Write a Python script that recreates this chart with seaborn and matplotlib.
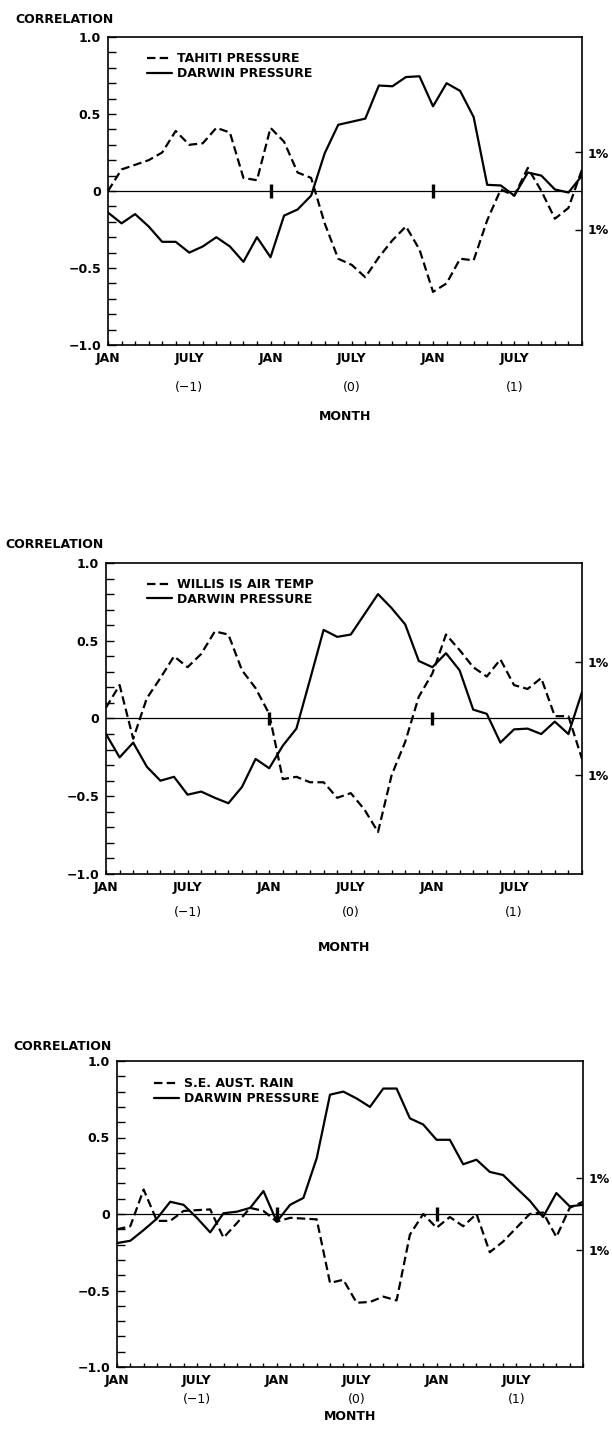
import numpy as np
import pandas as pd
import seaborn as sns
import matplotlib.pyplot as plt
from matplotlib.ticker import MultipleLocator, FixedLocator

# Lag correlations with Darwin pressure, Jan of year (-1) to Dec of year (+1)
months = np.arange(36)
tick_months = [0, 6, 12, 18, 24, 30]
tick_labels = ['JAN', 'JULY', 'JAN', 'JULY', 'JAN', 'JULY']
year_months = [6, 18, 30]
year_labels = ['(\u22121)', '(0)', '(1)']
jan_marks = [12, 24]

tahiti = [0.0, 0.14, 0.17, 0.20, 0.25, 0.39, 0.30, 0.31, 0.41, 0.38, 0.085, 0.07,
          0.41, 0.32, 0.12, 0.085, -0.21, -0.44, -0.48, -0.56, -0.43, -0.32, -0.23, -0.38,
          -0.655, -0.60, -0.44, -0.45, -0.19, 0.01, -0.03, 0.15, 0.0, -0.18, -0.11, 0.14]
darwin_1 = [-0.14, -0.21, -0.15, -0.23, -0.33, -0.33, -0.40, -0.36, -0.30, -0.36, -0.46, -0.30,
            -0.43, -0.16, -0.12, -0.03, 0.245, 0.43, 0.45, 0.47, 0.685, 0.68, 0.74, 0.745,
            0.55, 0.70, 0.65, 0.48, 0.04, 0.036, -0.03, 0.12, 0.10, 0.01, -0.01, 0.10]

willis = [0.07, 0.215, -0.13, 0.13, 0.26, 0.40, 0.33, 0.415, 0.56, 0.54, 0.31, 0.195,
          0.03, -0.39, -0.375, -0.41, -0.41, -0.51, -0.48, -0.585, -0.73, -0.365, -0.15, 0.14,
          0.29, 0.54, 0.44, 0.33, 0.27, 0.38, 0.215, 0.19, 0.26, 0.015, 0.015, -0.26]
darwin_2 = [-0.10, -0.25, -0.155, -0.31, -0.40, -0.375, -0.49, -0.47, -0.51, -0.545, -0.44, -0.26,
            -0.32, -0.175, -0.065, 0.25, 0.57, 0.525, 0.54, 0.67, 0.80, 0.71, 0.605, 0.37,
            0.33, 0.42, 0.31, 0.057, 0.03, -0.155, -0.07, -0.065, -0.10, -0.02, -0.10, 0.17]

se_rain = [-0.10, -0.08, 0.16, -0.045, -0.045, 0.02, 0.025, 0.03, -0.155, -0.06, 0.04, 0.02,
           -0.05, -0.025, -0.03, -0.035, -0.45, -0.43, -0.58, -0.575, -0.54, -0.565, -0.135, 0.0,
           -0.09, -0.02, -0.08, 0.0, -0.25, -0.18, -0.09, 0.0, 0.01, -0.15, 0.04, 0.08]
darwin_3 = [-0.19, -0.175, -0.105, -0.03, 0.08, 0.06, -0.025, -0.12, 0.005, 0.015, 0.04, 0.15,
            -0.05, 0.06, 0.105, 0.365, 0.78, 0.80, 0.755, 0.70, 0.82, 0.82, 0.625, 0.585,
            0.485, 0.485, 0.325, 0.355, 0.275, 0.255, 0.17, 0.087, -0.02, 0.137, 0.05, 0.06]

other_names = ['TAHITI PRESSURE', 'WILLIS IS AIR TEMP', 'S.E. AUST. RAIN']
other_series = [tahiti, willis, se_rain]
darwin_series = [darwin_1, darwin_2, darwin_3]
crit_1pct = [0.25, 0.365, 0.235]

# page layout, in pixels of the 612x1440 sheet
W, H = 612, 1440
axes_px = [(108, 582, 37, 345), (106, 582, 563, 874), (117, 583, 1061, 1367)]
corr_px = [(15, 19.5), (5, 545), (13, 1046)]
bottom_offsets = [(42, 72), (39, 74), (32, 49)]
legend_px = [(147, 52), (147, 578), (154, 1077)]

sns.set_style('white')
plt.rcParams['font.family'] = ['DejaVu Sans']
plt.rcParams['font.weight'] = 'bold'
plt.rcParams['font.size'] = 9
for key in ['text.color', 'axes.labelcolor', 'xtick.color', 'ytick.color', 'axes.edgecolor']:
    plt.rcParams[key] = 'black'

fig = plt.figure(figsize=(6.12, 14.4), dpi=100)

for k in range(3):
    left, right, top, bottom = axes_px[k]
    ax_w, ax_h = right - left, bottom - top
    ax = fig.add_axes([left / W, 1 - bottom / H, ax_w / W, ax_h / H])

    name = other_names[k]
    df = pd.DataFrame({
        'month': np.tile(months, 2),
        'corr': np.concatenate([other_series[k], darwin_series[k]]),
        'series': [name] * len(months) + ['DARWIN PRESSURE'] * len(months),
    })
    sns.lineplot(data=df, x='month', y='corr', style='series',
                 style_order=[name, 'DARWIN PRESSURE'],
                 dashes={name: (3.8, 1.9), 'DARWIN PRESSURE': ''},
                 color='black', lw=1.6, estimator=None, legend=False, ax=ax)
    lines = sorted(ax.get_lines(), key=lambda ln: ln.get_linestyle() == '-')

    ax.axhline(0, color='black', lw=0.9)
    ax.vlines(jan_marks, -0.045, 0.045, color='black', lw=2.4)

    ax.set_xlim(0, 35)
    ax.set_ylim(-1, 1)
    ax.set_xlabel('')
    ax.set_ylabel('')

    ax.xaxis.set_major_locator(FixedLocator(tick_months))
    ax.set_xticklabels(tick_labels)
    ax.xaxis.set_minor_locator(MultipleLocator(1))
    ax.set_yticks([1.0, 0.5, 0, -0.5, -1.0])
    ax.set_yticklabels(['1.0', '0.5', '0', '\u22120.5', '\u22121.0'])
    ax.yaxis.set_minor_locator(MultipleLocator(0.1))
    ax.tick_params(axis='x', which='both', direction='in', length=3, width=1,
                   pad=5, bottom=True, top=False, colors='black')
    ax.tick_params(axis='y', which='both', direction='in', length=5.5, width=1,
                   pad=5, left=True, right=False, colors='black')
    for s in ax.spines.values():
        s.set_linewidth(1.2)
        s.set_color('black')

    # 1% significance marks on the right
    ax2 = ax.twinx()
    ax2.set_ylim(-1, 1)
    ax2.set_yticks([crit_1pct[k], -crit_1pct[k]])
    ax2.set_yticklabels(['1%', '1%'])
    ax2.tick_params(axis='y', direction='in', length=5, width=1, pad=4, colors='black')
    for s in ax2.spines.values():
        s.set_visible(False)

    # year labels and MONTH title below the axis
    year_off, month_off = bottom_offsets[k]
    for m, lab in zip(year_months, year_labels):
        ax.text(m, -year_off / ax_h, lab, transform=ax.get_xaxis_transform(),
                ha='center', va='center', fontweight='normal', fontsize=9)
    ax.text(0.5, -month_off / ax_h, 'MONTH', transform=ax.transAxes,
            ha='center', va='center')

    lx, ly = legend_px[k]
    leg = ax.legend(lines, [name, 'DARWIN PRESSURE'], loc='upper left',
                    bbox_to_anchor=((lx - left) / ax_w, 1 - (ly - top) / ax_h),
                    frameon=False, borderpad=0, borderaxespad=0, handlelength=2.0,
                    handletextpad=0.4, labelspacing=0.15, fontsize=9)
    for t in leg.get_texts():
        t.set_color('black')

    cx, cy = corr_px[k]
    fig.text(cx / W, 1 - cy / H, 'CORRELATION', ha='left', va='center')

fig.savefig('out.png', dpi=100, facecolor='white')
